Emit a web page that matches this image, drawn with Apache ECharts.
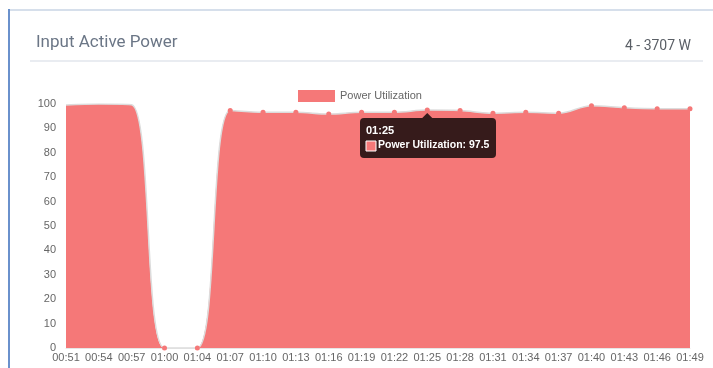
<!DOCTYPE html>
<html>
<head>
<meta charset="utf-8">
<script src="https://cdn.jsdelivr.net/npm/echarts@6/dist/echarts.min.js"></script>
<style>
  html, body { margin: 0; padding: 0; background: #fff; }
  #chart { width: 713px; height: 368px; }
</style>
</head>
<body>
<div id="chart"></div>
<script>
// Time of each sample
const times = ['00:51', '00:54', '00:57', '01:00', '01:04', '01:07', '01:10', '01:13', '01:16', '01:19',
  '01:22', '01:25', '01:28', '01:31', '01:34', '01:37', '01:40', '01:43', '01:46', '01:49'];
// Power utilization (%) per sample
const utilization = [99.6, 100, 99.7, 0, 0, 97.3, 96.6, 96.6, 95.9, 96.6,
  96.6, 97.5, 97.3, 96.2, 96.6, 96.2, 99.3, 98.5, 98.1, 98.1];
const seriesName = 'Power Utilization';
const cardTitle = 'Input Active Power';
const rangeText = '4 - 3707 W';
const yTicks = [0, 10, 20, 30, 40, 50, 60, 70, 80, 90, 100];
// Sample highlighted by the hover box
const focusIndex = 11;

const red = '#f57878';
const tipBg = 'rgba(48,24,24,0.97)';

const chart = echarts.init(document.getElementById('chart'), null, { renderer: 'canvas' });

const seriesData = utilization.map((v, i) => ({
  value: v,
  symbolSize: i < 3 ? 0 : 5
}));

chart.setOption({
  animation: false,
  backgroundColor: '#fff',
  title: [
    {
      text: cardTitle,
      left: 31, top: 29,
      textStyle: { fontFamily: 'Roboto', fontSize: 17, fontWeight: 'normal', color: '#6b7686' }
    },
    {
      text: rangeText,
      right: 17, top: 34,
      textStyle: { fontFamily: 'Roboto', fontSize: 14, fontWeight: 'normal', color: '#5a5f66' }
    }
  ],
  legend: {
    top: 85,
    left: 293,
    itemWidth: 37,
    itemHeight: 12,
    itemGap: 6,
    icon: 'rect',
    textStyle: { fontFamily: 'Arial, Liberation Sans', fontSize: 11, color: '#666' },
    data: [seriesName]
  },
  grid: { left: 66, right: 23, top: 104, bottom: 20, containLabel: false },
  xAxis: {
    type: 'category',
    boundaryGap: false,
    data: times,
    axisLine: { show: true, lineStyle: { color: '#e6e6e6' } },
    axisTick: { show: false },
    axisLabel: {
      fontFamily: 'Arial, Liberation Sans', fontSize: 11, color: '#666',
      margin: 4, interval: 0
    },
    splitLine: { show: false }
  },
  yAxis: {
    type: 'value',
    min: 0, max: 100, interval: 10,
    axisLine: { show: false },
    axisTick: { show: false },
    axisLabel: {
      fontFamily: 'Arial, Liberation Sans', fontSize: 11, color: '#666', margin: 10,
      formatter: v => yTicks.includes(v) ? String(v) : ''
    },
    splitLine: { show: false }
  },
  series: [{
    name: seriesName,
    type: 'line',
    smooth: 0.35,
    data: seriesData,
    symbol: 'circle',
    showSymbol: true,
    itemStyle: { color: red },
    lineStyle: { color: '#dcdcdc', width: 1.5 },
    areaStyle: { color: red, opacity: 1 }
  }],
  graphic: [
    // card frame
    { id: 'frameTop', type: 'rect', shape: { x: 8, y: 9, width: 720, height: 2 }, style: { fill: '#d6dfeb' }, z: 10 },
    { id: 'frameLeft', type: 'rect', shape: { x: 8, y: 9, width: 2, height: 370 }, style: { fill: '#6a91cc' }, z: 10 },
    // separator under the header
    { id: 'sep', type: 'rect', shape: { x: 30, y: 60, width: 673, height: 2 }, style: { fill: '#e9ecf1' }, z: 10 }
  ]
});

// Hover box anchored on the highlighted sample
function drawTip() {
  const pt = chart.convertToPixel({ xAxisIndex: 0, yAxisIndex: 0 }, [focusIndex, utilization[focusIndex]]);
  if (!pt) return;
  const boxW = 136, boxH = 40;
  const bx = Math.round(pt[0] - 67), by = Math.round(pt[1] + 8);
  chart.setOption({
    graphic: [
      { id: 'tipBox', type: 'rect', z: 100, shape: { x: bx, y: by, width: boxW, height: boxH, r: 4 }, style: { fill: tipBg } },
      { id: 'tipArrow', type: 'polygon', z: 100, shape: { points: [[pt[0] - 5, by], [pt[0] + 5, by], [pt[0], by - 5]] }, style: { fill: tipBg } },
      { id: 'tipTime', type: 'text', z: 101, x: bx + 6, y: by + 7, style: { text: times[focusIndex], fill: '#fff', font: 'bold 11px Arial, Liberation Sans' } },
      { id: 'tipMark', type: 'rect', z: 101, shape: { x: bx + 6, y: by + 23, width: 10, height: 10 }, style: { fill: red, stroke: '#fff', lineWidth: 1 } },
      { id: 'tipValue', type: 'text', z: 101, x: bx + 18, y: by + 22, style: { text: seriesName + ': ' + utilization[focusIndex], fill: '#fff', font: 'bold 10.5px Arial, Liberation Sans' } }
    ]
  });
}
drawTip();
</script>
</body>
</html>
